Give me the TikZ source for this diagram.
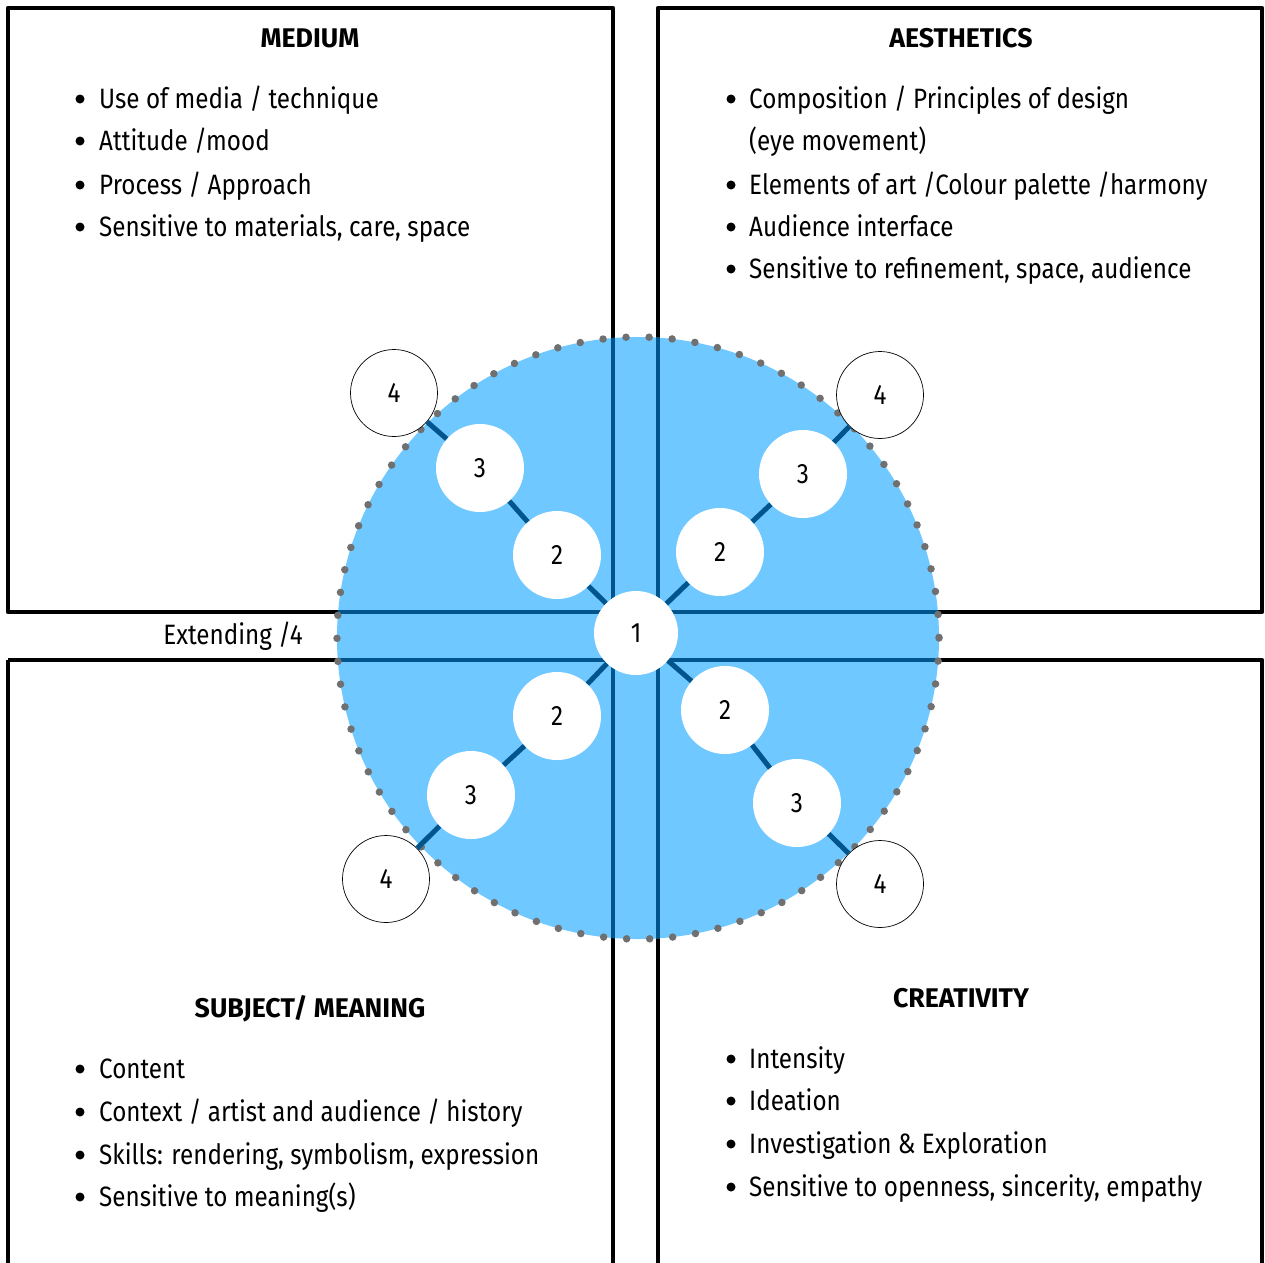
\documentclass[tikz,border=0pt]{standalone}
\usepackage{fontspec}
\setmainfont{Fira Sans}[FakeStretch=0.865]
\newfontfamily\titlefont{Fira Sans}[FakeStretch=0.99]
\definecolor{cblue}{RGB}{111,200,255}
\definecolor{dblue}{RGB}{0,85,140}
\definecolor{dotgray}{RGB}{112,112,112}
\begin{document}
\begin{tikzpicture}[x=1pt,y=-1pt,
  box/.style={line width=4.3pt, line join=round},
  num/.style={circle, fill=white, minimum size=88pt, inner sep=0pt, font=\fontsize{28}{28}\selectfont},
  numfour/.style={num, draw=black, line width=0.7pt, minimum size=87pt},
  spoke/.style={line width=5pt, draw=dblue},
  ttl/.style={anchor=base, inner sep=0pt, font=\titlefont\fontsize{27}{27}\selectfont\bfseries},
  itm/.style={anchor=base west, inner sep=0pt, font=\fontsize{28}{28}\selectfont},
  bul/.style={circle, fill=black, inner sep=0pt, minimum size=9pt}
]
\useasboundingbox (0,0) rectangle (1265,1262);
% boxes
\draw[box] (8,8) rectangle (613,612);
\draw[box] (658,8) rectangle (1262,612);
\draw[box] (8,660) -- (613,660) -- (613,1266);
\draw[box] (8,1266) -- (8,660);
\draw[box] (658,1266) -- (658,660) -- (1262,660) -- (1262,1266);
% blue circle
\coordinate (c) at (638,638);
\fill[cblue] (c) circle (301);
\begin{scope}
  \clip (c) circle (301);
  \draw[line width=4pt, dblue] (0,612) -- (1265,612) (0,660) -- (1265,660)
     (613,0) -- (613,1262) (658,0) -- (658,1262);
\end{scope}
\draw[dotgray, line width=7.5pt, line cap=round, dash pattern=on 0pt off 23.06pt] (c) circle (301);
% nodes
\node[num, minimum size=84pt] (n1) at (636,633) {1};
\node[num] (a2) at (557,555) {2};
\node[num] (a3) at (480,468) {3};
\node[numfour] (a4) at (394,393) {4};
\node[num] (b2) at (720,552) {2};
\node[num] (b3) at (803,474) {3};
\node[numfour] (b4) at (880,395) {4};
\node[num] (c2) at (557,716) {2};
\node[num] (c3) at (471,795) {3};
\node[numfour] (c4) at (386,879) {4};
\node[num] (d2) at (725,710) {2};
\node[num] (d3) at (797,803) {3};
\node[numfour] (d4) at (880,884) {4};
% spokes
\draw[spoke] (n1) -- (a2); \draw[spoke] (a2) -- (a3); \draw[spoke] (a3) -- (a4);
\draw[spoke] (n1) -- (b2); \draw[spoke] (b2) -- (b3); \draw[spoke] (b3) -- (b4);
\draw[spoke] (n1) -- (c2); \draw[spoke] (c2) -- (c3); \draw[spoke] (c3) -- (c4);
\draw[spoke] (n1) -- (d2); \draw[spoke] (d2) -- (d3); \draw[spoke] (d3) -- (d4);
% Extending
\node[anchor=base, inner sep=0pt, font=\fontsize{28}{28}\selectfont] (ext) at (233,644) {Extending /4};
% MEDIUM
\node[ttl] (t1) at (310,47) {MEDIUM};
\foreach \y/\t [count=\i] in {108/{Use of media / technique},150/{Attitude /mood},194/{Process / Approach},236/{Sensitive to materials, care, space}}{
  \node[bul] (m\i b) at (80,\y-9) {};
  \node[itm] (m\i) at (99,\y) {\t};
}
% AESTHETICS
\node[ttl] (t2) at (961,47) {AESTHETICS};
\foreach \y/\t [count=\i] in {108/{Composition / Principles of design},194/{Elements of art /Colour palette /harmony},236/{Audience interface},278/{Sensitive to refinement, space, audience}}{
  \node[bul] (a\i b) at (731,\y-9) {};
  \node[itm] (ae\i) at (749,\y) {\t};
}
\node[itm] (ae0) at (749,150) {(eye movement)};
% SUBJECT
\node[ttl] (t3) at (310,1017) {SUBJECT/ MEANING};
\foreach \y/\t [count=\i] in {1078/{Content},1121/{Context / artist and audience / history},1164/{Skills: rendering, symbolism, expression},1206/{Sensitive to meaning(s)}}{
  \node[bul] (s\i b) at (80,\y-9) {};
  \node[itm] (s\i) at (99,\y) {\t};
}
% CREATIVITY
\node[ttl] (t4) at (961,1007) {CREATIVITY};
\foreach \y/\t [count=\i] in {1068/{Intensity},1110/{Ideation},1153/{Investigation \& Exploration},1196/{Sensitive to openness, sincerity, empathy}}{
  \node[bul] (r\i b) at (731,\y-9) {};
  \node[itm] (r\i) at (749,\y) {\t};
}
\end{tikzpicture}
\end{document}
